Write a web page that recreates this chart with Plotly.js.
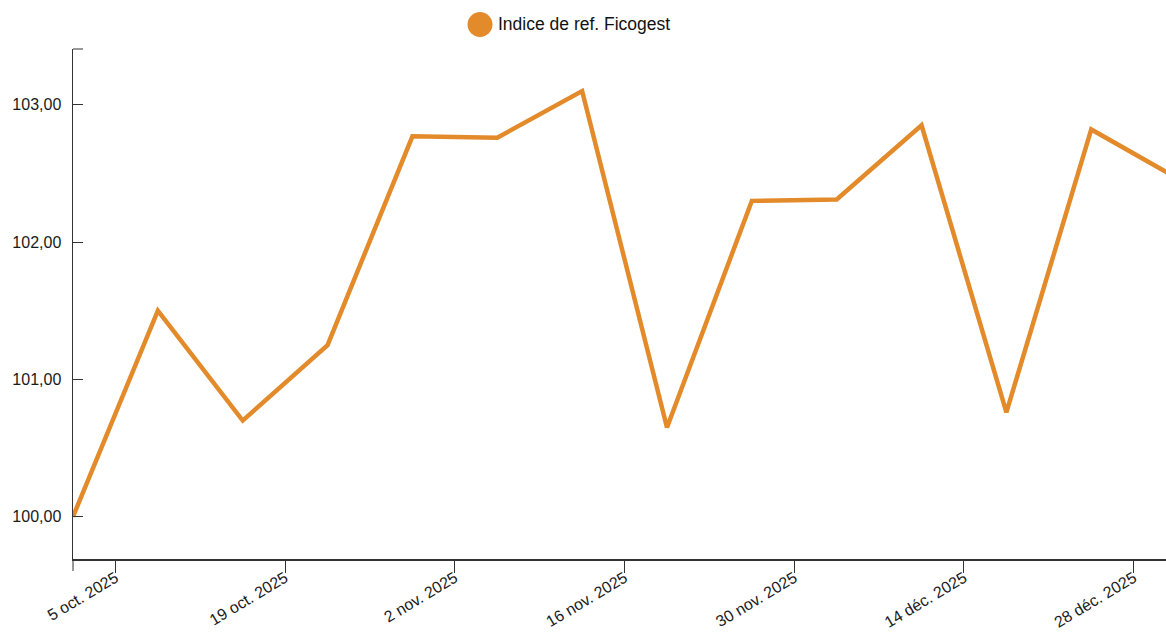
<!DOCTYPE html>
<html>
<head>
<meta charset="utf-8">
<script src="https://cdn.plot.ly/plotly-3.0.1.min.js"></script>
<style>
html, body { margin: 0; padding: 0; background: #fff; }
#chart { width: 1166px; height: 632px; }
</style>
</head>
<body>
<div id="chart"></div>
<script>
// Data (weekly values)
const dates = [
  "2025-10-01 12:00", "2025-10-08 12:00", "2025-10-15 12:00", "2025-10-22 12:00",
  "2025-10-29 12:00", "2025-11-05 12:00", "2025-11-12 12:00", "2025-11-19 12:00",
  "2025-11-26 12:00", "2025-12-03 12:00", "2025-12-10 12:00", "2025-12-17 12:00",
  "2025-12-24 12:00", "2025-12-31 12:00"
];
const indexValues = [
  100.00, 101.50, 100.70, 101.25,
  102.77, 102.76, 103.10, 100.65,
  102.30, 102.31, 102.85, 100.76,
  102.82, 102.47
];
const seriesName = "Indice de ref. Ficogest";
const xTickVals = ["2025-10-05", "2025-10-19", "2025-11-02", "2025-11-16", "2025-11-30", "2025-12-14", "2025-12-28"];
const xTickText = ["5 oct. 2025", "19 oct. 2025", "2 nov. 2025", "16 nov. 2025", "30 nov. 2025", "14 déc. 2025", "28 déc. 2025"];
const yTickVals = [100, 101, 102, 103];

const lineColor = "#E38B2B";
const axisColor = "#333333";
const fontFamily = "Liberation Sans, Arial, sans-serif";

const trace = {
  type: "scatter",
  mode: "lines",
  x: dates,
  y: indexValues,
  name: seriesName,
  showlegend: false,
  line: { color: lineColor, width: 4.5, shape: "linear" },
  hoverinfo: "x+y"
};

const layout = {
  width: 1166,
  height: 632,
  margin: { l: 73, r: 0, t: 49, b: 73, pad: 0 },
  paper_bgcolor: "#ffffff",
  plot_bgcolor: "#ffffff",
  separators: ", ",
  font: { family: fontFamily, size: 16, color: "#1a1a1a" },
  showlegend: false,
  xaxis: {
    type: "date",
    range: ["2025-10-01 12:00", "2025-12-30 16:00"],
    tickvals: xTickVals,
    ticktext: xTickText,
    tickangle: -31,
    ticks: "outside",
    ticklen: 12,
    tickwidth: 1,
    tickcolor: axisColor,
    ticklabelstandoff: -10,
    showline: true,
    linecolor: axisColor,
    linewidth: 1.5,
    showgrid: false,
    zeroline: false,
    tickfont: { family: fontFamily, size: 16, color: "#1a1a1a" }
  },
  yaxis: {
    range: [99.692, 103.406],
    tickvals: yTickVals,
    tickformat: ".2f",
    ticks: "inside",
    ticklen: 10,
    tickwidth: 1,
    tickcolor: axisColor,
    ticklabelstandoff: 7,
    showline: true,
    linecolor: axisColor,
    linewidth: 1.5,
    showgrid: false,
    zeroline: false,
    tickfont: { family: fontFamily, size: 16, color: "#1a1a1a" }
  },
  shapes: [
    // outer tick at the start of the x axis
    { type: "line", xref: "paper", yref: "paper", x0: 0, x1: 0, y0: 0, y1: -12 / 510,
      line: { color: axisColor, width: 1 } },
    // outer tick at the top of the y axis
    { type: "line", xref: "paper", yref: "paper", x0: 0, x1: 10 / 1093, y0: 1, y1: 1,
      line: { color: axisColor, width: 1 } },
    // legend circle
    { type: "circle", xref: "paper", yref: "paper",
      xsizemode: "pixel", ysizemode: "pixel",
      xanchor: (480 - 73) / 1093, yanchor: 1 + (49 - 24.5) / 510,
      x0: -12.5, x1: 12.5, y0: -12.5, y1: 12.5,
      fillcolor: lineColor, line: { width: 0 } }
  ],
  annotations: [
    { xref: "paper", yref: "paper",
      x: (496 - 73) / 1093, y: 1 + (49 - 24) / 510,
      xanchor: "left", yanchor: "middle",
      text: seriesName, showarrow: false,
      font: { family: fontFamily, size: 17.5, color: "#111111" } }
  ]
};

Plotly.newPlot("chart", [trace], layout, { displayModeBar: false, staticPlot: true });
</script>
</body>
</html>
